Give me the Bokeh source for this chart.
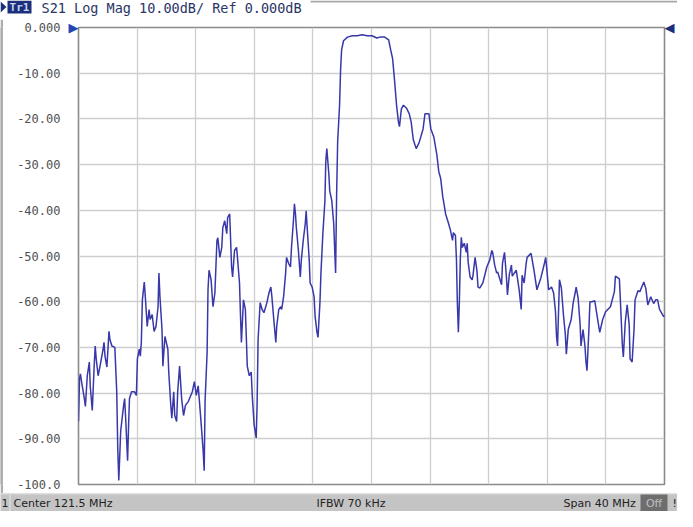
from bokeh.plotting import figure
from bokeh.models import FixedTicker, LinearAxis, Range1d
from bokeh.layouts import column, row
from bokeh.core.properties import value
from bokeh.embed import file_html
from bokeh.resources import INLINE

# ---- data (S21, dB vs MHz) ----
freq_mhz = [
    101.50, 101.57, 101.63, 101.70, 101.90, 101.97, 102.10, 102.24, 102.30, 102.44,
    102.57, 102.64, 102.71, 102.84, 102.97, 103.18, 103.24, 103.31, 103.44, 103.58,
    103.64, 103.78, 103.98, 104.11, 104.18, 104.25, 104.31, 104.38, 104.58, 104.65,
    104.72, 104.85, 104.92, 104.98, 105.12, 105.32, 105.45, 105.52, 105.65, 105.72,
    105.79, 105.86, 105.99, 106.06, 106.19, 106.32, 106.39, 106.53, 106.66, 106.79,
    106.93, 106.99, 107.06, 107.20, 107.26, 107.40, 107.60, 107.66, 107.80, 107.87,
    108.00, 108.07, 108.20, 108.27, 108.40, 108.54, 108.67, 108.80, 109.00, 109.27,
    109.41, 109.54, 109.67, 109.74, 109.88, 110.01, 110.08, 110.14, 110.28, 110.34,
    110.41, 110.55, 110.68, 110.81, 110.95, 111.01, 111.15, 111.28, 111.35, 111.48,
    111.62, 111.68, 111.82, 111.95, 112.02, 112.15, 112.29, 112.35, 112.49, 112.56,
    112.62, 112.76, 112.89, 112.96, 113.02, 113.16, 113.29, 113.36, 113.49, 113.63,
    113.69, 113.76, 113.90, 114.03, 114.16, 114.36, 114.50, 114.63, 114.70, 114.83,
    114.97, 115.03, 115.17, 115.30, 115.37, 115.50, 115.64, 115.70, 115.84, 115.97,
    116.04, 116.17, 116.24, 116.31, 116.37, 116.51, 116.64, 116.71, 116.84, 116.98,
    117.04, 117.11, 117.25, 117.31, 117.45, 117.58, 117.65, 117.78, 117.85, 117.98,
    118.05, 118.18, 118.32, 118.38, 118.45, 118.59, 118.65, 118.79, 118.92, 118.99,
    119.05, 119.12, 119.19, 119.26, 119.32, 119.39, 119.46, 119.59, 119.86, 120.19,
    120.53, 120.86, 121.20, 121.53, 121.87, 122.07, 122.40, 122.67, 122.81, 122.94,
    123.07, 123.21, 123.34, 123.41, 123.54, 123.68, 123.88, 124.08, 124.21, 124.35,
    124.55, 124.75, 125.02, 125.15, 125.42, 125.55, 125.75, 125.96, 126.09, 126.22,
    126.36, 126.56, 126.76, 126.89, 127.03, 127.09, 127.23, 127.30, 127.36, 127.43,
    127.50, 127.56, 127.63, 127.70, 127.83, 127.97, 128.03, 128.10, 128.23, 128.37,
    128.43, 128.57, 128.70, 128.77, 128.90, 129.10, 129.37, 129.57, 129.71, 129.77,
    129.91, 130.04, 130.11, 130.24, 130.38, 130.44, 130.58, 130.71, 130.78, 130.91,
    131.05, 131.11, 131.38, 131.58, 131.72, 131.78, 131.92, 132.05, 132.12, 132.39,
    132.59, 132.72, 132.79, 133.06, 133.26, 133.39, 133.46, 133.59, 133.79, 133.93,
    134.06, 134.13, 134.20, 134.33, 134.46, 134.60, 134.73, 134.80, 134.93, 135.13,
    135.27, 135.40, 135.47, 135.60, 135.74, 135.80, 135.94, 136.07, 136.14, 136.21,
    136.34, 136.41, 136.54, 136.74, 136.94, 137.08, 137.28, 137.48, 137.81, 138.08,
    138.15, 138.42, 138.48, 138.62, 138.69, 138.82, 138.95, 139.09, 139.15, 139.29,
    139.42, 139.49, 139.69, 139.82, 140.09, 140.23, 140.36, 140.49, 140.56, 140.76,
    140.90, 141.03, 141.16, 141.43, 141.50,
]
s21_db = [
    -86.2, -76.9, -75.8, -77.3, -81.2, -82.9, -76.2, -73.2, -78.4, -83.8,
    -74.1, -69.7, -72.5, -76.2, -74.1, -70.4, -68.9, -71.9, -74.3, -66.5,
    -68.2, -69.7, -70.0, -79.7, -92.0, -99.1, -94.2, -88.3, -82.7, -81.2,
    -85.5, -94.8, -87.0, -81.2, -79.7, -79.7, -80.5, -72.5, -70.4, -71.9,
    -68.9, -59.6, -55.7, -58.9, -65.4, -61.7, -63.9, -62.8, -66.5, -65.4,
    -61.1, -53.7, -58.9, -66.1, -74.1, -67.6, -70.4, -75.4, -82.7, -85.5,
    -79.7, -84.9, -86.2, -79.7, -74.1, -81.2, -84.9, -82.7, -81.8, -79.7,
    -77.5, -80.5, -78.4, -81.2, -87.0, -92.7, -97.0, -81.8, -71.0, -57.4,
    -53.1, -55.2, -61.1, -58.1, -46.6, -46.0, -50.3, -48.1, -43.8, -42.3,
    -45.1, -41.6, -40.8, -52.4, -54.6, -48.8, -48.1, -50.3, -55.9, -63.2,
    -68.9, -59.6, -61.7, -68.2, -74.1, -76.2, -75.4, -80.5, -87.0, -89.8,
    -82.7, -68.2, -60.2, -61.7, -62.4, -60.2, -58.1, -56.8, -58.9, -63.9,
    -68.9, -65.4, -61.7, -61.1, -61.7, -58.9, -53.7, -50.3, -51.6, -52.4,
    -48.1, -42.3, -38.6, -40.8, -43.8, -48.8, -54.6, -50.9, -46.6, -42.9,
    -40.1, -43.8, -50.9, -55.9, -56.8, -58.9, -63.2, -66.7, -67.8, -60.2,
    -53.7, -45.1, -37.9, -29.3, -26.5, -32.1, -35.8, -37.9, -42.9, -48.8,
    -53.7, -36.4, -25.0, -20.7, -17.0, -9.2, -4.9, -2.9, -2.1, -1.8,
    -1.8, -1.6, -1.8, -1.8, -2.3, -2.1, -2.1, -2.7, -4.9, -6.8,
    -11.4, -17.0, -20.7, -21.7, -17.8, -17.0, -17.6, -18.9, -20.7, -24.5,
    -26.5, -25.2, -22.2, -18.9, -18.9, -22.2, -23.9, -27.8, -31.5, -33.0,
    -36.9, -40.8, -42.9, -44.4, -46.6, -44.9, -45.5, -50.9, -60.2, -66.7,
    -59.6, -50.9, -45.9, -48.1, -47.2, -49.2, -47.2, -51.4, -54.6, -55.2,
    -54.2, -50.3, -53.3, -56.8, -57.0, -55.9, -52.4, -50.9, -48.8, -49.2,
    -52.0, -53.7, -53.5, -54.8, -56.3, -51.6, -49.2, -54.6, -58.5, -54.0,
    -52.0, -54.4, -53.1, -57.4, -61.7, -54.2, -55.9, -51.8, -50.3, -49.4,
    -53.1, -55.9, -57.4, -54.8, -52.2, -50.3, -52.7, -57.4, -56.8, -58.1,
    -62.2, -67.6, -69.7, -55.2, -57.0, -62.8, -67.1, -71.5, -66.1, -63.9,
    -60.2, -58.1, -56.8, -59.1, -65.0, -69.7, -66.1, -69.7, -73.2, -75.1,
    -66.1, -60.0, -60.0, -59.8, -63.9, -66.7, -63.9, -62.2, -61.1, -57.8,
    -54.4, -55.0, -59.1, -69.3, -72.1, -64.5, -60.7, -65.0, -72.5, -73.2,
    -66.1, -59.6, -57.6, -57.8, -55.7, -57.2, -60.7, -59.6, -58.9, -60.4,
    -59.6, -59.6, -61.7, -63.2, -63.0,
]
center_mhz = 121.5
span_mhz = 40.0
ref_db = 0.0
scale_db = 10.0
y_ticks = [0, -10, -20, -30, -40, -50, -60, -70, -80, -90, -100]
y_tick_labels = ["0.000", "-10.00", "-20.00", "-30.00", "-40.00", "-50.00",
                 "-60.00", "-70.00", "-80.00", "-90.00", "-100.0"]
trace_name = "Tr1"
header_text = "S21 Log Mag 10.00dB/ Ref 0.000dB"
status_channel = "1"
status_left = "Center 121.5 MHz"
status_mid = "IFBW 70 kHz"
status_right = "Span 40 MHz"
status_flag = "Off"

TOTAL_W = 677
STRIP_W = 3
HEAD_H = 19
MAIN_H = 474
STAT_H = 18
NAVY = "#1c2f7a"

def plain(w, h):
    f = figure(width=w, height=h, output_backend="svg", toolbar_location=None,
               x_range=Range1d(0, w), y_range=Range1d(h, 0),
               min_border=0, x_axis_location=None, y_axis_location=None)
    f.title.visible = False
    f.grid.visible = False
    f.outline_line_color = None
    return f

# ---- header strip ----
head = plain(TOTAL_W, HEAD_H)
head.background_fill_color = "white"
head.border_fill_color = "white"
head.patch([0, 6, 0], [1, 6.5, 12], fill_color=NAVY, line_color=None)
head.quad(left=[7], right=[31], top=[0], bottom=[13], fill_color=NAVY, line_color=None)
head.text(x=[19], y=[7], text=[trace_name], text_font=value("DejaVu Sans Mono"),
          text_font_size="11px", text_font_style="bold", text_color="#c8d0f4",
          text_align="center", text_baseline="middle")
head.text(x=[41], y=[7], text=[header_text], text_font=value("DejaVu Sans Mono"),
          text_font_size="13.5px", text_color="#2a3566",
          text_align="left", text_baseline="middle")
head.quad(left=[310], right=[TOTAL_W], top=[0], bottom=[2], fill_color="#a8a8a8", line_color=None)

# ---- left grey border strip ----
strip = plain(STRIP_W, MAIN_H)
strip.background_fill_color = "#adadad"
strip.border_fill_color = "#adadad"
strip.quad(left=[0], right=[STRIP_W], top=[0], bottom=[MAIN_H], fill_color="#adadad", line_color=None)

# ---- main trace plot ----
x_lo, x_hi = center_mhz - span_mhz / 2, center_mhz + span_mhz / 2
y_hi, y_lo = ref_db, ref_db - 10 * scale_db

p = figure(width=TOTAL_W - STRIP_W, height=MAIN_H, output_backend="svg",
           toolbar_location=None, x_range=Range1d(x_lo, x_hi),
           y_range=Range1d(y_lo, y_hi), x_axis_location=None, y_axis_location=None,
           min_border_left=75, min_border_right=8, min_border_top=8, min_border_bottom=9)
p.title.visible = False
p.background_fill_color = "white"
p.border_fill_color = "white"
p.outline_line_color = "#8a8a8a"
p.outline_line_width = 1.6

def bare_axis(ticks, labels, color, font, size, standoff):
    ax = LinearAxis(ticker=FixedTicker(ticks=ticks),
                    major_label_overrides={t: l for t, l in zip(ticks, labels)})
    ax.axis_line_color = None
    ax.major_tick_line_color = None
    ax.minor_tick_line_color = None
    ax.major_tick_out = 0
    ax.major_tick_in = 0
    ax.major_label_standoff = standoff
    ax.major_label_text_font = font
    ax.major_label_text_font_size = size
    ax.major_label_text_color = color
    return ax

# reference-level markers (closest to the frame) and dB scale labels
p.add_layout(bare_axis([ref_db], ["\u25b6"], "#2346b5", "DejaVu Sans", "13px", 0), "left")
p.add_layout(bare_axis(y_ticks, y_tick_labels, "#505050", "DejaVu Sans Mono", "12px", 5), "left")
p.add_layout(bare_axis([ref_db], ["\u25c0"], NAVY, "DejaVu Sans", "13px", 0), "right")

x_grid = [x_lo + span_mhz / 10 * k for k in range(11)]
p.xgrid.ticker = FixedTicker(ticks=x_grid)
p.ygrid.ticker = FixedTicker(ticks=y_ticks)
p.grid.grid_line_color = "#cecece"
p.grid.grid_line_width = 1.3

p.line(freq_mhz, s21_db, line_color="#3838aa", line_width=1.5)

# ---- status bar ----
stat = plain(TOTAL_W, STAT_H)
stat.background_fill_color = "#c4c4c4"
stat.border_fill_color = "#c4c4c4"
stat.quad(left=[0], right=[TOTAL_W], top=[0], bottom=[1], fill_color="#dcdcdc", line_color=None)
stat.quad(left=[9], right=[10], top=[1], bottom=[STAT_H], fill_color="#e6e6e6", line_color=None)
stat.quad(left=[640], right=[667], top=[1], bottom=[STAT_H], fill_color="#6e6e6e", line_color=None)
stat.text(x=[1, 13, 316, 563, 672], y=[9.5] * 5,
          text=[status_channel, status_left, status_mid, status_right, "!"],
          text_font=value("DejaVu Sans"), text_font_size="11px", text_color="#222222",
          text_align="left", text_baseline="middle")
stat.text(x=[653.5], y=[9.5], text=[status_flag], text_font=value("DejaVu Sans"),
          text_font_size="11px", text_color="#c0c0c0", text_align="center",
          text_baseline="middle")

layout = column(head, row(strip, p), stat)
open("out.html", "w").write(file_html(layout, INLINE))
